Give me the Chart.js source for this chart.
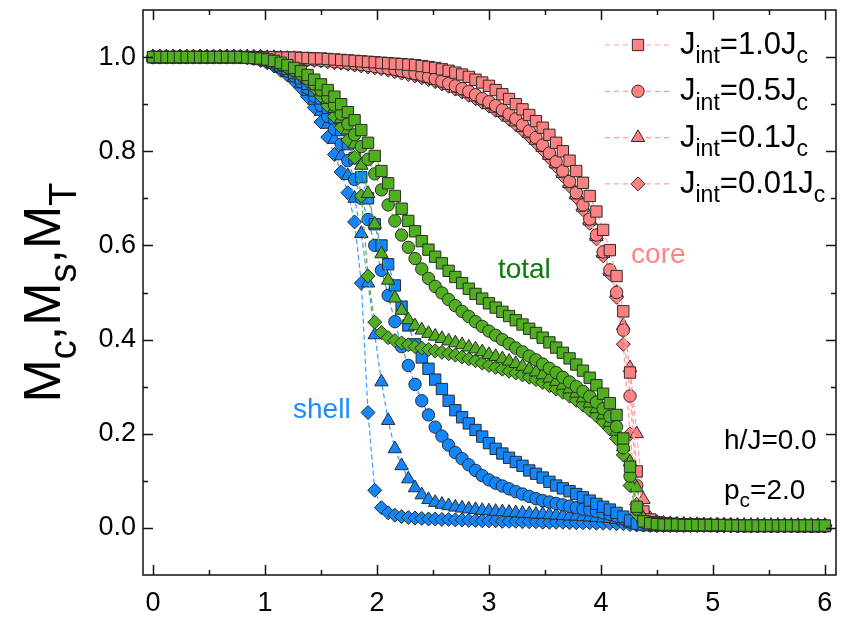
<!DOCTYPE html>
<html>
<head>
<meta charset="utf-8">
<script src="https://cdn.jsdelivr.net/npm/chart.js@4.4.1/dist/chart.umd.min.js"></script>
<style>
  html, body { margin: 0; padding: 0; background: #fff; }
  #wrap { position: relative; width: 845px; height: 617px; }
</style>
</head>
<body>
<div id="wrap"><canvas id="chart"></canvas></div>
<script>
// temperature grid k_BT/J
const temps = [
  0, 0.06, 0.12, 0.18, 0.24, 0.3, 0.36, 0.42, 0.48, 0.54,
  0.6, 0.66, 0.72, 0.78, 0.84, 0.9, 0.96, 1.02, 1.08, 1.14,
  1.2, 1.26, 1.32, 1.38, 1.44, 1.5, 1.56, 1.62, 1.68, 1.74,
  1.8, 1.86, 1.92, 1.98, 2.04, 2.1, 2.16, 2.22, 2.28, 2.34,
  2.4, 2.46, 2.52, 2.58, 2.64, 2.7, 2.76, 2.82, 2.88, 2.94,
  3, 3.06, 3.12, 3.18, 3.24, 3.3, 3.36, 3.42, 3.48, 3.54,
  3.6, 3.66, 3.72, 3.78, 3.84, 3.9, 3.96, 4.02, 4.08, 4.14,
  4.2, 4.26, 4.32, 4.38, 4.44, 4.5, 4.56, 4.62, 4.68, 4.74,
  4.8, 4.86, 4.92, 4.98, 5.04, 5.1, 5.16, 5.22, 5.28, 5.34,
  5.4, 5.46, 5.52, 5.58, 5.64, 5.7, 5.76, 5.82, 5.88, 5.94,
  6
];

const couplings = ['1.0', '0.5', '0.1', '0.01'];

// core magnetization M_c
const coreSq = [
  1, 1, 1, 1, 1, 1, 1, 1, 1, 1,
  1, 1, 1, 1, 1, 1, 1, 1, 1, 0.999,
  0.999, 0.999, 0.998, 0.998, 0.997, 0.997, 0.996, 0.995, 0.994, 0.993,
  0.992, 0.991, 0.99, 0.989, 0.988, 0.987, 0.986, 0.985, 0.984, 0.983,
  0.981, 0.979, 0.977, 0.974, 0.971, 0.967, 0.963, 0.958, 0.952, 0.946,
  0.939, 0.93, 0.921, 0.911, 0.9, 0.889, 0.877, 0.864, 0.85, 0.835,
  0.818, 0.8, 0.78, 0.758, 0.733, 0.705, 0.672, 0.633, 0.59, 0.535,
  0.46, 0.33, 0.12, 0.035, 0.018, 0.012, 0.01, 0.009, 0.008, 0.008,
  0.007, 0.007, 0.007, 0.006, 0.006, 0.006, 0.006, 0.006, 0.005, 0.005,
  0.005, 0.005, 0.005, 0.005, 0.005, 0.005, 0.005, 0.004, 0.004, 0.004,
  0.004
];
const coreCi = [
  1, 1, 1, 1, 1, 1, 1, 1, 1, 1,
  1, 1, 1, 1, 1, 1, 1, 0.999, 0.999, 0.998,
  0.998, 0.997, 0.996, 0.995, 0.994, 0.993, 0.992, 0.99, 0.989, 0.987,
  0.986, 0.984, 0.982, 0.98, 0.978, 0.976, 0.974, 0.971, 0.968, 0.965,
  0.962, 0.958, 0.954, 0.949, 0.944, 0.939, 0.933, 0.927, 0.92, 0.912,
  0.905, 0.897, 0.888, 0.879, 0.869, 0.856, 0.843, 0.829, 0.813, 0.796,
  0.778, 0.758, 0.736, 0.712, 0.686, 0.656, 0.622, 0.586, 0.548, 0.5,
  0.42, 0.28, 0.09, 0.03, 0.015, 0.01, 0.009, 0.008, 0.008, 0.007,
  0.007, 0.007, 0.006, 0.006, 0.006, 0.006, 0.006, 0.005, 0.005, 0.005,
  0.005, 0.005, 0.005, 0.005, 0.005, 0.005, 0.004, 0.004, 0.004, 0.004,
  0.004
];
const coreTr = [
  1, 1, 1, 1, 1, 1, 1, 1, 1, 1,
  1, 1, 1, 1, 1, 1, 1, 0.999, 0.999, 0.998,
  0.997, 0.997, 0.996, 0.995, 0.994, 0.992, 0.991, 0.989, 0.988, 0.986,
  0.984, 0.982, 0.98, 0.978, 0.976, 0.974, 0.971, 0.968, 0.965, 0.962,
  0.958, 0.954, 0.95, 0.945, 0.94, 0.934, 0.928, 0.922, 0.915, 0.907,
  0.899, 0.891, 0.882, 0.872, 0.862, 0.85, 0.837, 0.823, 0.808, 0.791,
  0.773, 0.753, 0.731, 0.707, 0.681, 0.652, 0.619, 0.583, 0.545, 0.5,
  0.43, 0.34, 0.2, 0.06, 0.02, 0.012, 0.01, 0.009, 0.008, 0.008,
  0.007, 0.007, 0.006, 0.006, 0.006, 0.006, 0.006, 0.005, 0.005, 0.005,
  0.005, 0.005, 0.005, 0.005, 0.005, 0.005, 0.004, 0.004, 0.004, 0.004,
  0.004
];
const coreDi = [
  1, 1, 1, 1, 1, 1, 1, 1, 1, 1,
  1, 1, 1, 1, 1, 1, 1, 0.999, 0.999, 0.998,
  0.997, 0.996, 0.995, 0.994, 0.993, 0.992, 0.99, 0.988, 0.987, 0.985,
  0.983, 0.981, 0.979, 0.977, 0.975, 0.972, 0.969, 0.966, 0.963, 0.96,
  0.956, 0.952, 0.948, 0.943, 0.938, 0.932, 0.926, 0.919, 0.912, 0.904,
  0.896, 0.887, 0.878, 0.868, 0.857, 0.845, 0.832, 0.818, 0.803, 0.786,
  0.768, 0.748, 0.726, 0.702, 0.676, 0.647, 0.614, 0.578, 0.54, 0.49,
  0.39, 0.2, 0.05, 0.02, 0.012, 0.01, 0.009, 0.008, 0.008, 0.007,
  0.007, 0.007, 0.006, 0.006, 0.006, 0.006, 0.006, 0.005, 0.005, 0.005,
  0.005, 0.005, 0.005, 0.005, 0.005, 0.005, 0.004, 0.004, 0.004, 0.004,
  0.004
];

// shell magnetization M_s
const shellSq = [
  1, 1, 1, 1, 1, 1, 1, 1, 1, 1,
  1, 1, 1, 1, 0.999, 0.998, 0.996, 0.993, 0.988, 0.982,
  0.975, 0.966, 0.955, 0.943, 0.929, 0.912, 0.892, 0.87, 0.845, 0.815,
  0.785, 0.745, 0.7, 0.645, 0.6, 0.56, 0.515, 0.47, 0.43, 0.39,
  0.362, 0.338, 0.315, 0.295, 0.27, 0.25, 0.235, 0.222, 0.208, 0.194,
  0.18, 0.168, 0.158, 0.149, 0.14, 0.132, 0.122, 0.115, 0.107, 0.098,
  0.09, 0.084, 0.078, 0.072, 0.065, 0.058, 0.051, 0.045, 0.039, 0.032,
  0.024, 0.016, 0.009, 0.007, 0.006, 0.006, 0.006, 0.005, 0.005, 0.005,
  0.005, 0.005, 0.005, 0.005, 0.005, 0.005, 0.005, 0.005, 0.004, 0.004,
  0.004, 0.004, 0.004, 0.004, 0.004, 0.004, 0.004, 0.004, 0.004, 0.004,
  0.004
];
const shellCi = [
  1, 1, 1, 1, 1, 1, 1, 1, 1, 1,
  1, 1, 1, 1, 0.999, 0.997, 0.995, 0.991, 0.985, 0.978,
  0.97, 0.96, 0.948, 0.934, 0.917, 0.897, 0.874, 0.847, 0.815, 0.78,
  0.74, 0.7, 0.655, 0.6, 0.547, 0.494, 0.438, 0.385, 0.345, 0.305,
  0.27, 0.24, 0.214, 0.195, 0.176, 0.16, 0.147, 0.134, 0.122, 0.111,
  0.102, 0.095, 0.089, 0.083, 0.077, 0.072, 0.067, 0.062, 0.058, 0.055,
  0.052, 0.049, 0.046, 0.043, 0.04, 0.038, 0.035, 0.032, 0.029, 0.025,
  0.02, 0.013, 0.008, 0.006, 0.006, 0.005, 0.005, 0.005, 0.005, 0.005,
  0.005, 0.005, 0.005, 0.005, 0.005, 0.005, 0.005, 0.004, 0.004, 0.004,
  0.004, 0.004, 0.004, 0.004, 0.004, 0.004, 0.004, 0.004, 0.004, 0.004,
  0.004
];
const shellTr = [
  1, 1, 1, 1, 1, 1, 1, 1, 1, 1,
  1, 1, 1, 1, 0.999, 0.997, 0.994, 0.99, 0.984, 0.976,
  0.967, 0.956, 0.943, 0.927, 0.908, 0.884, 0.857, 0.825, 0.79, 0.748,
  0.7, 0.625, 0.52, 0.41, 0.31, 0.228, 0.168, 0.132, 0.104, 0.085,
  0.07, 0.06, 0.054, 0.05, 0.047, 0.044, 0.042, 0.04, 0.039, 0.037,
  0.036, 0.035, 0.034, 0.033, 0.032, 0.031, 0.03, 0.029, 0.029, 0.028,
  0.027, 0.026, 0.025, 0.025, 0.024, 0.023, 0.022, 0.021, 0.02, 0.018,
  0.015, 0.01, 0.007, 0.006, 0.006, 0.005, 0.005, 0.005, 0.005, 0.005,
  0.005, 0.005, 0.005, 0.005, 0.005, 0.005, 0.004, 0.004, 0.004, 0.004,
  0.004, 0.004, 0.004, 0.004, 0.004, 0.004, 0.004, 0.004, 0.004, 0.004,
  0.004
];
const shellDi = [
  1, 1, 1, 1, 1, 1, 1, 1, 1, 1,
  1, 1, 1, 1, 0.999, 0.997, 0.993, 0.988, 0.981, 0.972,
  0.962, 0.95, 0.935, 0.916, 0.893, 0.862, 0.83, 0.793, 0.756, 0.712,
  0.65, 0.52, 0.245, 0.08, 0.043, 0.032, 0.027, 0.024, 0.022, 0.021,
  0.02, 0.019, 0.019, 0.018, 0.018, 0.017, 0.017, 0.016, 0.016, 0.015,
  0.015, 0.015, 0.014, 0.014, 0.014, 0.013, 0.013, 0.013, 0.012, 0.012,
  0.012, 0.012, 0.011, 0.011, 0.011, 0.011, 0.01, 0.01, 0.01, 0.009,
  0.009, 0.007, 0.006, 0.006, 0.005, 0.005, 0.005, 0.005, 0.005, 0.005,
  0.005, 0.005, 0.005, 0.005, 0.004, 0.004, 0.004, 0.004, 0.004, 0.004,
  0.004, 0.004, 0.004, 0.004, 0.004, 0.004, 0.004, 0.004, 0.004, 0.004,
  0.004
];

// total magnetization M_T
const totalSq = [
  1, 1, 1, 1, 1, 1, 1, 1, 1, 1,
  1, 1, 1, 1, 0.999, 0.998, 0.997, 0.995, 0.992, 0.988,
  0.983, 0.977, 0.97, 0.962, 0.952, 0.942, 0.93, 0.916, 0.9, 0.883,
  0.866, 0.845, 0.818, 0.79, 0.758, 0.732, 0.705, 0.678, 0.652, 0.63,
  0.609, 0.591, 0.576, 0.562, 0.546, 0.533, 0.52, 0.508, 0.497, 0.487,
  0.477, 0.468, 0.459, 0.45, 0.441, 0.432, 0.423, 0.414, 0.404, 0.394,
  0.383, 0.372, 0.36, 0.347, 0.334, 0.319, 0.303, 0.285, 0.265, 0.24,
  0.19, 0.13, 0.045, 0.014, 0.01, 0.008, 0.007, 0.007, 0.007, 0.006,
  0.006, 0.006, 0.006, 0.006, 0.006, 0.006, 0.005, 0.005, 0.005, 0.005,
  0.005, 0.005, 0.005, 0.005, 0.005, 0.005, 0.005, 0.005, 0.005, 0.005,
  0.005
];
const totalCi = [
  1, 1, 1, 1, 1, 1, 1, 1, 1, 1,
  1, 1, 1, 1, 0.999, 0.998, 0.996, 0.994, 0.99, 0.985,
  0.979, 0.972, 0.964, 0.954, 0.943, 0.93, 0.915, 0.898, 0.879, 0.858,
  0.835, 0.81, 0.783, 0.752, 0.718, 0.686, 0.652, 0.622, 0.596, 0.572,
  0.55, 0.53, 0.513, 0.499, 0.485, 0.472, 0.46, 0.449, 0.438, 0.428,
  0.418, 0.409, 0.4, 0.391, 0.382, 0.374, 0.365, 0.357, 0.348, 0.339,
  0.33, 0.32, 0.31, 0.3, 0.29, 0.279, 0.267, 0.253, 0.237, 0.215,
  0.17, 0.11, 0.04, 0.012, 0.009, 0.008, 0.007, 0.007, 0.006, 0.006,
  0.006, 0.006, 0.006, 0.006, 0.006, 0.005, 0.005, 0.005, 0.005, 0.005,
  0.005, 0.005, 0.005, 0.005, 0.005, 0.005, 0.005, 0.005, 0.005, 0.005,
  0.005
];
const totalTr = [
  1, 1, 1, 1, 1, 1, 1, 1, 1, 1,
  1, 1, 1, 1, 0.999, 0.998, 0.996, 0.993, 0.989, 0.984,
  0.978, 0.971, 0.962, 0.952, 0.94, 0.926, 0.91, 0.891, 0.869, 0.845,
  0.815, 0.77, 0.71, 0.645, 0.582, 0.526, 0.488, 0.462, 0.442, 0.429,
  0.42, 0.413, 0.407, 0.402, 0.397, 0.393, 0.389, 0.384, 0.38, 0.374,
  0.368, 0.364, 0.359, 0.354, 0.349, 0.343, 0.337, 0.331, 0.325, 0.318,
  0.311, 0.303, 0.295, 0.286, 0.276, 0.265, 0.253, 0.24, 0.224, 0.205,
  0.172, 0.14, 0.085, 0.02, 0.01, 0.008, 0.007, 0.007, 0.006, 0.006,
  0.006, 0.006, 0.006, 0.006, 0.006, 0.005, 0.005, 0.005, 0.005, 0.005,
  0.005, 0.005, 0.005, 0.005, 0.005, 0.005, 0.005, 0.005, 0.005, 0.005,
  0.005
];
const totalDi = [
  1, 1, 1, 1, 1, 1, 1, 1, 1, 1,
  1, 1, 1, 1, 0.999, 0.998, 0.996, 0.993, 0.988, 0.983,
  0.977, 0.969, 0.96, 0.949, 0.935, 0.917, 0.897, 0.874, 0.851, 0.824,
  0.787, 0.705, 0.535, 0.437, 0.415, 0.404, 0.398, 0.393, 0.389, 0.385,
  0.382, 0.379, 0.376, 0.373, 0.37, 0.367, 0.363, 0.359, 0.355, 0.35,
  0.345, 0.341, 0.337, 0.333, 0.329, 0.325, 0.32, 0.315, 0.309, 0.302,
  0.295, 0.288, 0.28, 0.271, 0.261, 0.25, 0.238, 0.225, 0.21, 0.19,
  0.155, 0.09, 0.03, 0.012, 0.009, 0.008, 0.007, 0.007, 0.006, 0.006,
  0.006, 0.006, 0.006, 0.006, 0.006, 0.005, 0.005, 0.005, 0.005, 0.005,
  0.005, 0.005, 0.005, 0.005, 0.005, 0.005, 0.005, 0.005, 0.005, 0.005,
  0.005
];

// axis ticks
const xTicks = [0, 1, 2, 3, 4, 5, 6];
const xTickLabels = ['0', '1', '2', '3', '4', '5', '6'];
const xMinor = [0.5, 1.5, 2.5, 3.5, 4.5, 5.5];
const yTicks = [0, 0.2, 0.4, 0.6, 0.8, 1.0];
const yTickLabels = ['0.0', '0.2', '0.4', '0.6', '0.8', '1.0'];
const yMinor = [0.1, 0.3, 0.5, 0.7, 0.9];

const FONT = '"Liberation Sans", Arial, sans-serif';
const markers = ['rect', 'circle', 'triangle', 'rectRot'];
const markerSize = [8, 6.2, 7.8, 7];
const fills = { core: '#FF8080', shell: '#1186FF', total: '#50AF1F' };
const lines = { core: '#FF9E9E', shell: '#3C9CFF', total: '#5DB52E' };

const groups = [
  ['total', [totalSq, totalCi, totalTr, totalDi]],
  ['shell', [shellSq, shellCi, shellTr, shellDi]],
  ['core', [coreSq, coreCi, coreTr, coreDi]]
];

const datasets = [];
groups.forEach(([name, rows], g) => {
  rows.forEach((vals, k) => {
    datasets.push({
      label: name + ' ' + couplings[k],
      data: temps.map((t, i) => ({ x: t, y: vals[i] })),
      order: g * 4 + k,
      borderColor: lines[name],
      borderWidth: 1.2,
      borderDash: [5, 3],
      backgroundColor: fills[name],
      pointStyle: markers[k],
      pointRadius: markerSize[k],
      pointBackgroundColor: fills[name],
      pointBorderColor: '#2b2b2b',
      pointBorderWidth: 1,
      tension: 0
    });
  });
});

// text with subscripts: parts = [[text, isSub], ...]
function richText(ctx, parts, x, y, size, color) {
  const sub = Math.round(size * 0.74);
  ctx.fillStyle = color;
  ctx.textBaseline = 'alphabetic';
  ctx.textAlign = 'left';
  let cx = x;
  parts.forEach(([t, s]) => {
    ctx.font = (s ? sub : size) + 'px ' + FONT;
    ctx.fillText(t, cx, y + (s ? size * 0.3 : 0));
    cx += ctx.measureText(t).width;
  });
  return cx - x;
}
function richWidth(ctx, parts, size) {
  const sub = Math.round(size * 0.74);
  let w = 0;
  parts.forEach(([t, s]) => {
    ctx.font = (s ? sub : size) + 'px ' + FONT;
    w += ctx.measureText(t).width;
  });
  return w;
}

const decorations = {
  id: 'decorations',
  afterDraw(chart) {
    const { ctx, chartArea: a, scales: { x, y } } = chart;
    ctx.save();

    // frame and inward ticks on all four sides
    ctx.strokeStyle = '#111';
    ctx.lineWidth = 1.5;
    ctx.strokeRect(a.left, a.top, a.right - a.left, a.bottom - a.top);
    ctx.beginPath();
    const xMark = (v, len) => {
      const px = Math.round(x.getPixelForValue(v)) + 0.5;
      ctx.moveTo(px, a.bottom); ctx.lineTo(px, a.bottom - len);
      ctx.moveTo(px, a.top); ctx.lineTo(px, a.top + len);
    };
    const yMark = (v, len) => {
      const py = Math.round(y.getPixelForValue(v)) + 0.5;
      ctx.moveTo(a.left, py); ctx.lineTo(a.left + len, py);
      ctx.moveTo(a.right, py); ctx.lineTo(a.right - len, py);
    };
    xTicks.forEach(v => xMark(v, 10));
    xMinor.forEach(v => xMark(v, 5));
    yTicks.forEach(v => yMark(v, 10));
    yMinor.forEach(v => yMark(v, 5));
    ctx.stroke();

    // axis title
    ctx.save();
    const title = [['M', false], ['c', true], [',M', false], ['s', true], [',M', false], ['T', true]];
    const tw = richWidth(ctx, title, 52);
    ctx.translate(60, (a.top + a.bottom) / 2 + tw / 2);
    ctx.rotate(-Math.PI / 2);
    richText(ctx, title, 0, 0, 52, '#000');
    ctx.restore();

    // legend
    const lx = 638;
    [0, 1, 2, 3].forEach(k => {
      const ly = 45 + k * 46.3;
      ctx.save();
      ctx.strokeStyle = lines.core;
      ctx.lineWidth = 1.2;
      ctx.setLineDash([5, 4]);
      ctx.beginPath();
      ctx.moveTo(lx - 33, ly); ctx.lineTo(lx - 8, ly);
      ctx.moveTo(lx + 8, ly); ctx.lineTo(lx + 32, ly);
      ctx.stroke();
      ctx.restore();
      ctx.fillStyle = fills.core;
      ctx.strokeStyle = '#2b2b2b';
      ctx.lineWidth = 1;
      Chart.helpers.drawPoint(ctx, { pointStyle: markers[k], radius: markerSize[k], borderWidth: 1 }, lx, ly);
      richText(ctx, [['J', false], ['int', true], ['=' + couplings[k] + 'J', false], ['c', true]], 680, ly + 9, 31, '#000');
    });

    // labels for the three groups and parameters
    ctx.font = '28px ' + FONT;
    ctx.textBaseline = 'middle';
    ctx.textAlign = 'left';
    ctx.fillStyle = '#0B7A0B';
    ctx.fillText('total', x.getPixelForValue(3.08), y.getPixelForValue(0.547));
    ctx.fillStyle = '#FF8585';
    ctx.fillText('core', x.getPixelForValue(4.27), y.getPixelForValue(0.579));
    ctx.fillStyle = '#1B8BFF';
    ctx.fillText('shell', x.getPixelForValue(1.25), y.getPixelForValue(0.249));
    ctx.fillStyle = '#000';
    ctx.fillText('h/J=0.0', x.getPixelForValue(5.1), y.getPixelForValue(0.185));
    richText(ctx, [['p', false], ['c', true], ['=2.0', false]], x.getPixelForValue(5.1), y.getPixelForValue(0.083) + 10, 28, '#000');

    ctx.restore();
  }
};

new Chart(document.getElementById('chart'), {
  type: 'line',
  data: { datasets },
  options: {
    responsive: true,
    maintainAspectRatio: false,
    animation: false,
    devicePixelRatio: 1,
    layout: { padding: { top: 10, right: 5, left: 0, bottom: 0 } },
    plugins: { legend: { display: false }, tooltip: { enabled: false } },
    scales: {
      x: {
        type: 'linear',
        min: -0.09,
        max: 6.1,
        afterFit: s => { s.height = 42; s.paddingLeft = 0; s.paddingRight = 0; },
        afterBuildTicks: s => { s.ticks = xTicks.map(v => ({ value: v })); },
        grid: { display: false, drawTicks: false },
        border: { display: false },
        ticks: {
          padding: 12,
          color: '#000',
          font: { family: FONT, size: 27 },
          maxRotation: 0,
          callback: (v, i) => xTickLabels[i]
        }
      },
      y: {
        type: 'linear',
        min: -0.1,
        max: 1.1,
        afterFit: s => { s.width = 143; s.paddingTop = 0; s.paddingBottom = 0; },
        afterBuildTicks: s => { s.ticks = yTicks.map(v => ({ value: v })); },
        grid: { display: false, drawTicks: false },
        border: { display: false },
        ticks: {
          padding: 7,
          color: '#000',
          font: { family: FONT, size: 27 },
          callback: (v, i) => yTickLabels[i]
        }
      }
    }
  },
  plugins: [decorations]
});
</script>
</body>
</html>
